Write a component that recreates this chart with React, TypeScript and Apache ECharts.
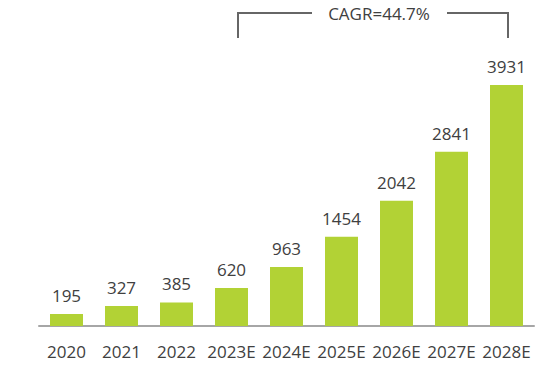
import React, { useEffect, useRef } from "react";
import * as echarts from "echarts";

const categories = ["2020", "2021", "2022", "2023E", "2024E", "2025E", "2026E", "2027E", "2028E"];
const values = [195, 327, 385, 620, 963, 1454, 2042, 2841, 3931];
const cagrText = "CAGR=44.7%";

export default function App() {
  const ref = useRef<HTMLDivElement>(null);
  useEffect(() => {
    const chart = echarts.init(ref.current!, null, { renderer: "svg" });
    const font = "'Open Sans', 'Noto Sans', sans-serif";
    chart.setOption({
      animation: false,
      backgroundColor: "#ffffff",
      grid: { left: 39, right: 20, top: 50, bottom: 49 },
      xAxis: {
        type: "category",
        data: categories,
        axisLine: { show: true, lineStyle: { color: "#a6a6a6", width: 2 } },
        axisTick: { show: false },
        axisLabel: { color: "#404040", fontSize: 17, fontFamily: font, margin: 17, interval: 0 },
      },
      yAxis: {
        type: "value",
        min: 0,
        max: 4500,
        show: false,
        splitLine: { show: false },
      },
      series: [
        {
          type: "bar",
          data: values,
          barWidth: "60%",
          itemStyle: { color: "#b2d235" },
          label: {
            show: true,
            position: "top",
            distance: 10,
            color: "#404040",
            fontSize: 17,
            fontFamily: font,
          },
        },
      ],
      graphic: [
        {
          type: "polyline",
          shape: { points: [[238, 38], [238, 13], [312, 13]] },
          style: { stroke: "#666666", lineWidth: 2, fill: null },
        },
        {
          type: "polyline",
          shape: { points: [[447, 13], [508, 13], [508, 38]] },
          style: { stroke: "#666666", lineWidth: 2, fill: null },
        },
        {
          type: "text",
          x: 379,
          y: 13,
          style: {
            text: cagrText,
            fill: "#404040",
            fontSize: 17,
            fontFamily: font,
            align: "center",
            verticalAlign: "middle",
          },
        },
      ],
    });
    return () => chart.dispose();
  }, []);
  return (
    <div
      ref={ref}
      style={{ position: "fixed", left: 0, top: 0, width: 554, height: 375 }}
    />
  );
}
